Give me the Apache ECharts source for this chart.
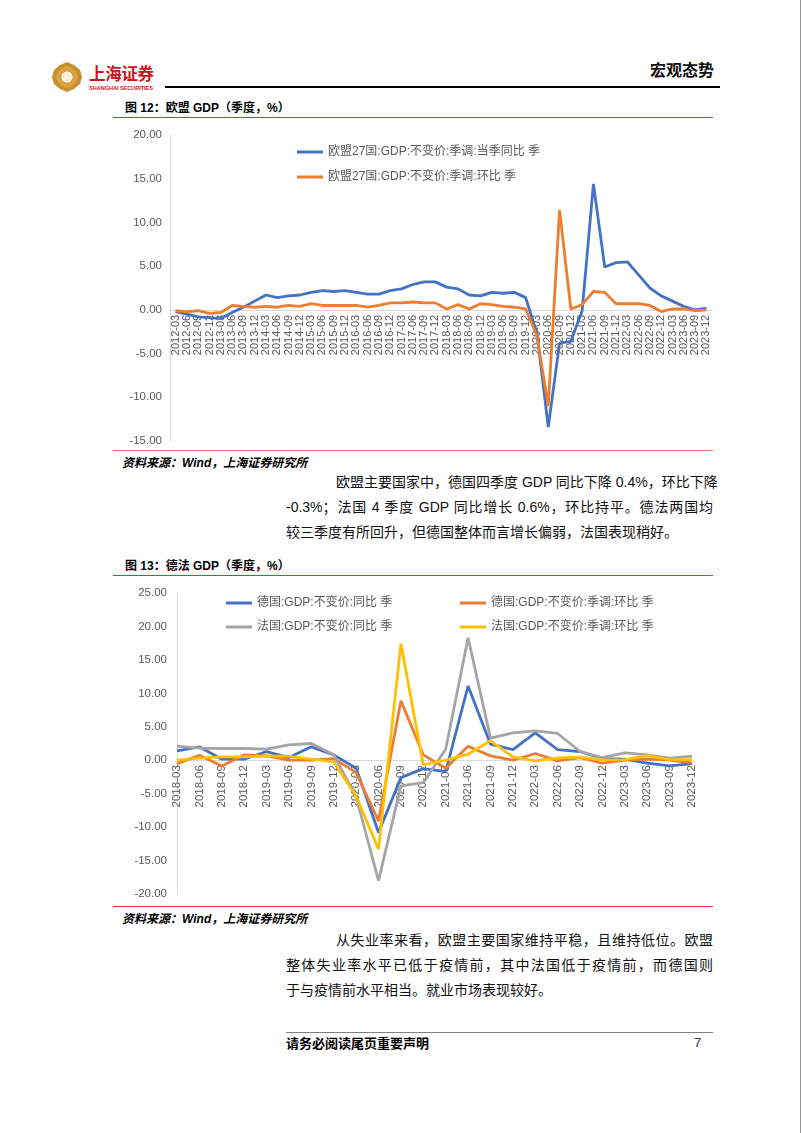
<!DOCTYPE html>
<html><head><meta charset="utf-8">
<script src="https://cdn.jsdelivr.net/npm/echarts@6/dist/echarts.min.js"></script>
<style>
html,body{margin:0;padding:0;background:#fff;}
body{width:802px;height:1133px;position:relative;overflow:hidden;font-family:'Liberation Sans','Noto Sans CJK SC',sans-serif;color:#000;}
.abs{position:absolute;white-space:nowrap;}
.hl{position:absolute;}
.para{position:absolute;left:286px;width:427px;font-size:14px;line-height:20px;height:20px;font-family:'Liberation Sans','Noto Sans CJK SC',sans-serif;color:#111;white-space:nowrap;text-align:justify;text-align-last:justify;}
.para.first{left:336px;width:377px;}
.para.last{text-align-last:left;}
.ttl{position:absolute;left:125px;font-size:12px;font-weight:bold;line-height:16px;font-family:'Liberation Sans','Noto Sans CJK SC',sans-serif;}
.src{position:absolute;left:122px;font-size:12px;font-weight:bold;font-style:italic;line-height:16px;font-family:'Liberation Sans','Noto Sans CJK SC',sans-serif;}
</style></head>
<body>
<!-- header -->
<svg class="abs" style="left:50px;top:60px" width="34" height="34" viewBox="0 0 34 34">
  <polygon points="17,2 24,5 30,10 32,17 30,24 24,29 17,32 10,29 4,24 2,17 4,10 10,5" fill="#C8912E"/>
  <polygon points="17,6 22,8 26,12 28,17 26,22 22,26 17,28 12,26 8,22 6,17 8,12 12,8" fill="#D9A441"/>
  <circle cx="17" cy="17" r="5.5" fill="#FBF3DF"/>
</svg>
<div class="abs" style="left:89px;top:61px;font-size:16.5px;font-weight:bold;color:#C8161D;font-family:'Noto Sans CJK SC',sans-serif;line-height:24px;letter-spacing:-0.3px">上海证券</div>
<svg class="abs" style="left:89px;top:84px" width="70" height="7"><text x="0" y="5.5" font-size="5.6" font-weight="bold" fill="#C8161D" font-family="Liberation Sans, sans-serif" textLength="64">SHANGHAI SECURITIES</text></svg>
<div class="hl" style="left:165px;top:86px;width:555px;height:2px;background:#000"></div>
<div class="abs" style="left:650px;top:58px;font-size:16px;font-weight:bold;font-family:'Noto Sans CJK SC',sans-serif;line-height:22px;color:#111">宏观态势</div>

<!-- figure 12 -->
<div class="ttl" style="top:100px">图 12：欧盟 GDP（季度，%）</div>
<div class="hl" style="left:113px;top:117px;width:600px;height:1px;background:#E0303A"></div>
<div id="c1" style="position:absolute;left:113px;top:120px;width:607px;height:329px"></div>
<div class="hl" style="left:113px;top:450px;width:600px;height:1px;background:#E8707A"></div>
<div class="src" style="top:455px">资料来源：Wind，上海证券研究所</div>

<div class="para first" style="top:472px">欧盟主要国家中，德国四季度 GDP 同比下降 0.4%，环比下降</div>
<div class="para" style="top:497px">-0.3%；法国 4 季度 GDP 同比增长 0.6%，环比持平。德法两国均</div>
<div class="para last" style="top:522px">较三季度有所回升，但德国整体而言增长偏弱，法国表现稍好。</div>

<!-- figure 13 -->
<div class="ttl" style="top:558px">图 13：德法 GDP（季度，%）</div>
<div class="hl" style="left:113px;top:575px;width:600px;height:1px;background:#E0303A"></div>
<div id="c2" style="position:absolute;left:113px;top:578px;width:607px;height:327px"></div>
<div class="hl" style="left:113px;top:906px;width:600px;height:1px;background:#E0303A"></div>
<div class="src" style="top:911px">资料来源：Wind，上海证券研究所</div>

<div class="para first" style="top:930px">从失业率来看，欧盟主要国家维持平稳，且维持低位。欧盟</div>
<div class="para" style="top:955px">整体失业率水平已低于疫情前，其中法国低于疫情前，而德国则</div>
<div class="para last" style="top:980px">于与疫情前水平相当。就业市场表现较好。</div>

<!-- footer -->
<div class="hl" style="left:286px;top:1032px;width:427px;height:1px;background:#808080"></div>
<div class="abs" style="left:286px;top:1034px;font-size:13px;font-weight:bold;line-height:18px;font-family:'Noto Sans CJK SC',sans-serif">请务必阅读尾页重要声明</div>
<div class="abs" style="left:694px;top:1034px;font-size:13px;line-height:18px;color:#1F3864">7</div>
<div class="hl" style="left:800px;top:0;width:1px;height:1133px;background:#9a9a9a"></div>

<script>
// ---------- Figure 12 data ----------
const cats1 = ['2012-03','2012-06','2012-09','2012-12','2013-03','2013-06','2013-09','2013-12',
'2014-03','2014-06','2014-09','2014-12','2015-03','2015-06','2015-09','2015-12',
'2016-03','2016-06','2016-09','2016-12','2017-03','2017-06','2017-09','2017-12',
'2018-03','2018-06','2018-09','2018-12','2019-03','2019-06','2019-09','2019-12',
'2020-03','2020-06','2020-09','2020-12','2021-03','2021-06','2021-09','2021-12',
'2022-03','2022-06','2022-09','2022-12','2023-03','2023-06','2023-09','2023-12'];
const euYoY = [-0.2,-0.5,-0.8,-0.9, -1.0,-0.3,0.3,1.0, 1.7,1.4,1.6,1.7, 2.0,2.2,2.1,2.2,
  2.0,1.8,1.8,2.2, 2.4,2.9,3.2,3.2, 2.6,2.4,1.7,1.6, 2.0,1.9,2.0,1.4,
  -2.7,-13.4,-3.8,-3.6, -0.1,14.4,4.9,5.4, 5.5,4.0,2.5,1.6, 1.0,0.4,0.0,0.2];
const euQoQ = [-0.1,-0.2,-0.1,-0.4, -0.3,0.5,0.4,0.3, 0.4,0.3,0.5,0.4, 0.7,0.5,0.5,0.5,
  0.5,0.3,0.5,0.8, 0.8,0.9,0.8,0.8, 0.1,0.6,0.1,0.7, 0.6,0.4,0.3,0.1,
  -3.0,-11.0,11.4,0.1, 0.6,2.1,2.0,0.7, 0.7,0.7,0.5,-0.2, 0.1,0.1,-0.1,0.0];
const names1 = ['欧盟27国:GDP:不变价:季调:当季同比 季','欧盟27国:GDP:不变价:季调:环比 季'];
const yTicks1 = {min:-15, max:20, interval:5};

// ---------- Figure 13 data ----------
const cats2 = ['2018-03','2018-06','2018-09','2018-12','2019-03','2019-06','2019-09','2019-12',
'2020-03','2020-06','2020-09','2020-12','2021-03','2021-06','2021-09','2021-12',
'2022-03','2022-06','2022-09','2022-12','2023-03','2023-06','2023-09','2023-12'];
const deYoY = [1.4,2.0,0.15,0.15, 1.3,0.4,2.0,0.8, -1.2,-10.8,-2.6,-1.25, -1.7,11.1,2.4,1.6, 4.1,1.6,1.3,0.25, 0.15,-0.45,-0.85,-0.5];
const deQoQ = [-0.5,0.75,-0.85,0.8, 0.65,0.0,0.0,0.25, -1.85,-9.1,8.9,0.8, -1.2,2.1,0.65,0.0, 1.0,-0.1,0.4,-0.45, 0.0,0.15,0.0,-0.4];
const frYoY = [2.1,1.8,1.75,1.75, 1.65,2.3,2.5,0.8, -5.5,-18.0,-3.85,-3.35, 1.65,18.3,3.3,4.1, 4.4,4.0,1.3,0.4, 1.1,0.8,0.3,0.6];
const frQoQ = [0.0,0.3,0.5,0.5, 0.6,0.6,0.15,-0.25, -5.4,-13.3,17.4,-0.7, 0.0,0.9,2.9,0.5, -0.1,0.35,0.45,0.05, 0.1,0.7,0.1,0.1];
const names2 = ['德国:GDP:不变价:同比 季','德国:GDP:不变价:季调:环比 季','法国:GDP:不变价:同比 季','法国:GDP:不变价:季调:环比 季'];
const yTicks2 = {min:-20, max:25, interval:5};

const COLORS = {blue:'#4472C4', orange:'#ED7D31', gray:'#A5A5A5', yellow:'#FFC000'};
const FONT = "'Liberation Sans','Noto Sans CJK SC',sans-serif";
const LABEL = '#595959', AXIS = '#D9D9D9';

function line(name, data, color){
  return {type:'line', name, data, symbol:'none', smooth:false,
    lineStyle:{width:2.8, color}, itemStyle:{color}, emphasis:{disabled:true}};
}
function legendText(){ return {fontSize:12, color:LABEL, lineHeight:14, fontFamily:FONT}; }

// grid geometry (pixels inside each chart div)
const G1 = {left:57, top:15, width:542, height:306};
const G2 = {left:64, top:15, width:515, height:301};
// distance of the zero line above the grid bottom, from the axis range
const zeroOff1 = G1.height * (0 - yTicks1.min) / (yTicks1.max - yTicks1.min);
const zeroOff2 = G2.height * (0 - yTicks2.min) / (yTicks2.max - yTicks2.min);

const c1 = echarts.init(document.getElementById('c1'), null, {renderer:'canvas'});
c1.setOption({
  animation:false,
  textStyle:{fontFamily:FONT},
  legend:{orient:'vertical', left:184, top:25, padding:0, itemWidth:26, itemHeight:3, itemGap:11, icon:'rect',
    textStyle:legendText(), data:names1},
  grid:Object.assign({outerBoundsMode:'none', containLabel:false}, G1),
  xAxis:{type:'category', data:cats1, boundaryGap:true, position:'bottom', offset:-zeroOff1,
    axisLine:{onZero:false, lineStyle:{color:AXIS, width:1}}, axisTick:{show:false},
    axisLabel:{rotate:90, interval:0, fontSize:11, color:LABEL, margin:5, fontFamily:FONT}},
  yAxis:{type:'value', min:yTicks1.min, max:yTicks1.max, interval:yTicks1.interval,
    axisLine:{show:true, lineStyle:{color:AXIS}}, axisTick:{show:false}, splitLine:{show:false},
    axisLabel:{formatter:v=>v.toFixed(2), fontSize:11.5, color:LABEL, margin:8, fontFamily:FONT}},
  series:[line(names1[0], euYoY, COLORS.blue), line(names1[1], euQoQ, COLORS.orange)]
});

const c2 = echarts.init(document.getElementById('c2'), null, {renderer:'canvas'});
c2.setOption({
  animation:false,
  textStyle:{fontFamily:FONT},
  legend:[
    {orient:'vertical', left:113, top:18, padding:0, itemWidth:26, itemHeight:3, itemGap:10, icon:'rect',
      textStyle:legendText(), data:[names2[0], names2[2]]},
    {orient:'vertical', left:347, top:18, padding:0, itemWidth:26, itemHeight:3, itemGap:10, icon:'rect',
      textStyle:legendText(), data:[names2[1], names2[3]]}
  ],
  grid:Object.assign({outerBoundsMode:'none', containLabel:false}, G2),
  xAxis:{type:'category', data:cats2, boundaryGap:false, position:'bottom', offset:-zeroOff2,
    axisLine:{onZero:false, lineStyle:{color:AXIS, width:1}}, axisTick:{show:false},
    axisLabel:{rotate:90, interval:0, fontSize:11.5, color:LABEL, margin:5, fontFamily:FONT}},
  yAxis:{type:'value', min:yTicks2.min, max:yTicks2.max, interval:yTicks2.interval,
    axisLine:{show:true, lineStyle:{color:AXIS}}, axisTick:{show:false}, splitLine:{show:false},
    axisLabel:{formatter:v=>v.toFixed(2), fontSize:11.5, color:LABEL, margin:10, fontFamily:FONT}},
  series:[line(names2[0], deYoY, COLORS.blue), line(names2[1], deQoQ, COLORS.orange),
          line(names2[2], frYoY, COLORS.gray), line(names2[3], frQoQ, COLORS.yellow)]
});
</script>
</body></html>
